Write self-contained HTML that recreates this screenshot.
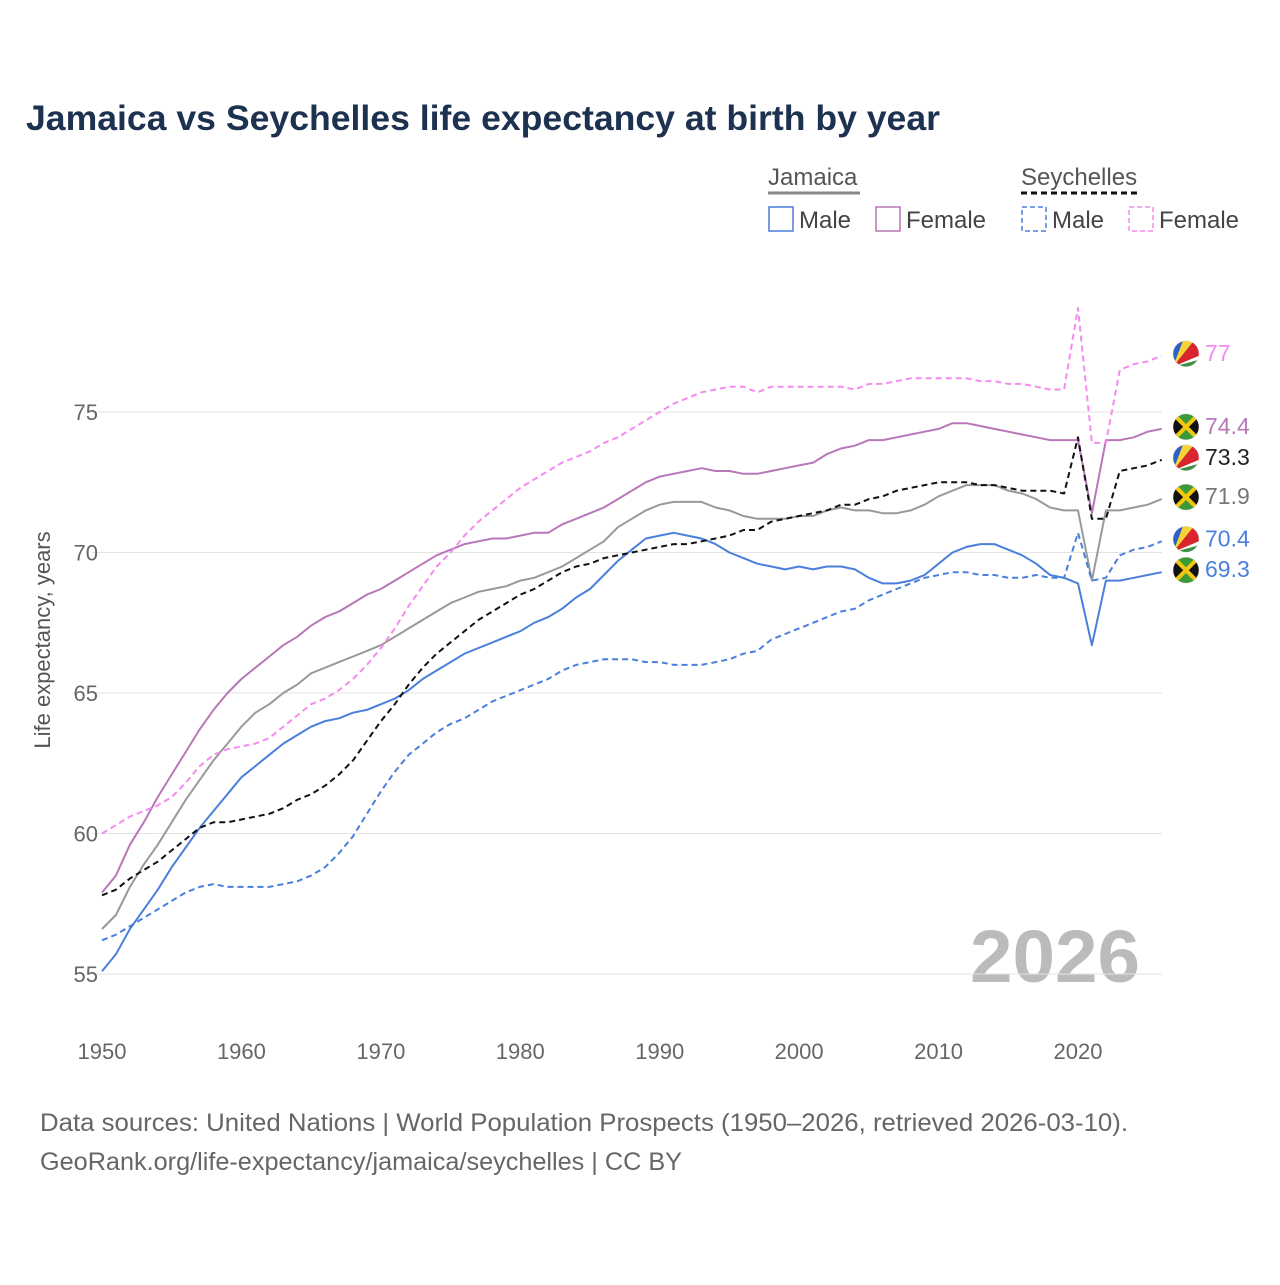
<!DOCTYPE html>
<html><head><meta charset="utf-8">
<style>
body{margin:0;background:#fff;font-family:"Liberation Sans",sans-serif;}
svg text{font-family:"Liberation Sans",sans-serif;}
</style></head>
<body>
<svg id="chart" width="1280" height="1280" viewBox="0 0 1280 1280">
<text x="26" y="130" font-size="35" font-weight="bold" fill="#1d3150" textLength="914" lengthAdjust="spacingAndGlyphs">Jamaica vs Seychelles life expectancy at birth by year</text>
<g>
 <text x="768" y="185" font-size="24" fill="#555">Jamaica</text>
 <line x1="768" y1="193" x2="860" y2="193" stroke="#888" stroke-width="3"/>
 <rect x="769" y="207" width="24" height="24" fill="none" stroke="#4a7fdc" stroke-width="1.5"/>
 <text x="799" y="228" font-size="24" fill="#444">Male</text>
 <rect x="876" y="207" width="24" height="24" fill="none" stroke="#b877b8" stroke-width="1.5"/>
 <text x="906" y="228" font-size="24" fill="#444">Female</text>
 <text x="1021" y="185" font-size="24" fill="#555">Seychelles</text>
 <line x1="1021" y1="193" x2="1140" y2="193" stroke="#111" stroke-width="3" stroke-dasharray="6,4"/>
 <rect x="1022" y="207" width="24" height="24" fill="none" stroke="#4a7fdc" stroke-width="1.5" stroke-dasharray="5,3"/>
 <text x="1052" y="228" font-size="24" fill="#444">Male</text>
 <rect x="1129" y="207" width="24" height="24" fill="none" stroke="#f58af0" stroke-width="1.5" stroke-dasharray="5,3"/>
 <text x="1159" y="228" font-size="24" fill="#444">Female</text>
</g>
<text transform="translate(50,640) rotate(-90)" text-anchor="middle" font-size="22" fill="#555">Life expectancy, years</text>
<text x="970" y="982" font-size="74" font-weight="bold" fill="#bbb" textLength="170" lengthAdjust="spacingAndGlyphs">2026</text>
<g id="grid"></g><g id="series"></g><g id="ends"></g>
<text x="40" y="1131" font-size="25" fill="#666" textLength="1088" lengthAdjust="spacingAndGlyphs">Data sources: United Nations | World Population Prospects (1950–2026, retrieved 2026-03-10).</text>
<text x="40" y="1170" font-size="25" fill="#666" textLength="642" lengthAdjust="spacingAndGlyphs">GeoRank.org/life-expectancy/jamaica/seychelles | CC BY</text>
</svg>
<script>
const startYear = 1950;
const yTicks = [55, 60, 65, 70, 75];
const xTicks = [1950, 1960, 1970, 1980, 1990, 2000, 2010, 2020];
const jamTotal = [56.6,57.1,58.1,58.9,59.6,60.4,61.2,61.9,62.6,63.2,63.8,64.3,64.6,65.0,65.3,65.7,65.9,66.1,66.3,66.5,66.7,67.0,67.3,67.6,67.9,68.2,68.4,68.6,68.7,68.8,69.0,69.1,69.3,69.5,69.8,70.1,70.4,70.9,71.2,71.5,71.7,71.8,71.8,71.8,71.6,71.5,71.3,71.2,71.2,71.2,71.3,71.3,71.5,71.6,71.5,71.5,71.4,71.4,71.5,71.7,72.0,72.2,72.4,72.4,72.4,72.2,72.1,71.9,71.6,71.5,71.5,69.0,71.5,71.5,71.6,71.7,71.9];
const jamMale = [55.1,55.7,56.6,57.3,58.0,58.8,59.5,60.2,60.8,61.4,62.0,62.4,62.8,63.2,63.5,63.8,64.0,64.1,64.3,64.4,64.6,64.8,65.1,65.5,65.8,66.1,66.4,66.6,66.8,67.0,67.2,67.5,67.7,68.0,68.4,68.7,69.2,69.7,70.1,70.5,70.6,70.7,70.6,70.5,70.3,70.0,69.8,69.6,69.5,69.4,69.5,69.4,69.5,69.5,69.4,69.1,68.9,68.9,69.0,69.2,69.6,70.0,70.2,70.3,70.3,70.1,69.9,69.6,69.2,69.1,68.9,66.7,69.0,69.0,69.1,69.2,69.3];
const jamFemale = [57.9,58.5,59.6,60.4,61.3,62.1,62.9,63.7,64.4,65.0,65.5,65.9,66.3,66.7,67.0,67.4,67.7,67.9,68.2,68.5,68.7,69.0,69.3,69.6,69.9,70.1,70.3,70.4,70.5,70.5,70.6,70.7,70.7,71.0,71.2,71.4,71.6,71.9,72.2,72.5,72.7,72.8,72.9,73.0,72.9,72.9,72.8,72.8,72.9,73.0,73.1,73.2,73.5,73.7,73.8,74.0,74.0,74.1,74.2,74.3,74.4,74.6,74.6,74.5,74.4,74.3,74.2,74.1,74.0,74.0,74.0,71.4,74.0,74.0,74.1,74.3,74.4];
const seyTotal = [57.8,58.0,58.4,58.7,59.0,59.4,59.8,60.2,60.4,60.4,60.5,60.6,60.7,60.9,61.2,61.4,61.7,62.1,62.6,63.3,64.0,64.6,65.3,65.9,66.4,66.8,67.2,67.6,67.9,68.2,68.5,68.7,69.0,69.3,69.5,69.6,69.8,69.9,70.0,70.1,70.2,70.3,70.3,70.4,70.5,70.6,70.8,70.8,71.1,71.2,71.3,71.4,71.5,71.7,71.7,71.9,72.0,72.2,72.3,72.4,72.5,72.5,72.5,72.4,72.4,72.3,72.2,72.2,72.2,72.1,74.1,71.2,71.2,72.9,73.0,73.1,73.3];
const seyMale = [56.2,56.4,56.7,57.0,57.3,57.6,57.9,58.1,58.2,58.1,58.1,58.1,58.1,58.2,58.3,58.5,58.8,59.3,59.9,60.7,61.5,62.2,62.8,63.2,63.6,63.9,64.1,64.4,64.7,64.9,65.1,65.3,65.5,65.8,66.0,66.1,66.2,66.2,66.2,66.1,66.1,66.0,66.0,66.0,66.1,66.2,66.4,66.5,66.9,67.1,67.3,67.5,67.7,67.9,68.0,68.3,68.5,68.7,68.9,69.1,69.2,69.3,69.3,69.2,69.2,69.1,69.1,69.2,69.1,69.1,70.7,69.0,69.1,69.9,70.1,70.2,70.4];
const seyFemale = [60.0,60.3,60.6,60.8,61.0,61.3,61.8,62.4,62.8,63.0,63.1,63.2,63.4,63.8,64.2,64.6,64.8,65.1,65.5,66.0,66.6,67.3,68.1,68.8,69.5,70.0,70.6,71.1,71.5,71.9,72.3,72.6,72.9,73.2,73.4,73.6,73.9,74.1,74.4,74.7,75.0,75.3,75.5,75.7,75.8,75.9,75.9,75.7,75.9,75.9,75.9,75.9,75.9,75.9,75.8,76.0,76.0,76.1,76.2,76.2,76.2,76.2,76.2,76.1,76.1,76.0,76.0,75.9,75.8,75.8,78.7,73.9,73.9,76.5,76.7,76.8,77.0];

const NS = "http://www.w3.org/2000/svg";
const x = yr => 102 + (yr - 1950) * (1078 - 102) / 70;
const y = v => 974 - (v - 55) * (974 - 412) / 20;
function mk(tag, attrs, parent){const e=document.createElementNS(NS,tag);for(const k in attrs)e.setAttribute(k,attrs[k]);parent.appendChild(e);return e;}
const grid = document.getElementById('grid');
yTicks.forEach(t=>{
  const l = mk('line',{x1:92,x2:1162,y1:y(t),y2:y(t),stroke:'#e3e3e3','stroke-width':1},grid);
  
  
  const tx = mk('text',{x:98,y:y(t)+8,'text-anchor':'end','font-size':22,fill:'#666'},grid);
  tx.textContent = t;
  
  
});
xTicks.forEach(t=>{
  const tx = mk('text',{x:x(t),y:1059,'text-anchor':'middle','font-size':22,fill:'#666'},grid);
  tx.textContent = t;
  
  
});
const series = [
  {d:jamTotal,c:'#999',dash:'',name:'line-jamaica-total',lab:'#777',flag:'jm'},
  {d:jamMale,c:'#4a7fdc',dash:'',name:'line-jamaica-male',lab:'#4a7fdc',flag:'jm'},
  {d:jamFemale,c:'#b877b8',dash:'',name:'line-jamaica-female',lab:'#b877b8',flag:'jm'},
  {d:seyMale,c:'#4a7fdc',dash:'6,4',name:'line-seychelles-male',lab:'#4a7fdc',flag:'sc'},
  {d:seyFemale,c:'#f58af0',dash:'6,4',name:'line-seychelles-female',lab:'#f58af0',flag:'sc'},
  {d:seyTotal,c:'#111',dash:'6,4',name:'line-seychelles-total',lab:'#222',flag:'sc'}
];
const sg = document.getElementById('series'), eg = document.getElementById('ends');
function flag(cx,cy,type,parent){
  const g = mk('g',{},parent);
  
  
  const id='clip'+Math.round(cx)+Math.round(cy);
  const cp=mk('clipPath',{id:id},g); mk('circle',{cx:cx,cy:cy,r:13},cp);
  const inner=mk('g',{'clip-path':'url(#'+id+')'},g);
  if(type==='jm'){
    mk('rect',{x:cx-13,y:cy-13,width:26,height:26,fill:'#111'},inner);
    mk('polygon',{points:`${cx-13},${cy-13} ${cx+13},${cy-13} ${cx},${cy}`,fill:'#3a9a3a'},inner);
    mk('polygon',{points:`${cx-13},${cy+13} ${cx+13},${cy+13} ${cx},${cy}`,fill:'#3a9a3a'},inner);
    mk('line',{x1:cx-13,y1:cy-13,x2:cx+13,y2:cy+13,stroke:'#f2c80f','stroke-width':4},inner);
    mk('line',{x1:cx+13,y1:cy-13,x2:cx-13,y2:cy+13,stroke:'#f2c80f','stroke-width':4},inner);
  } else {
    mk('rect',{x:cx-13,y:cy-13,width:26,height:26,fill:'#3f8f3f'},inner);
    mk('polygon',{points:`${cx-13},${cy+13} ${cx-13},${cy-13} ${cx-3},${cy-13}`,fill:'#2d5fc4'},inner);
    mk('polygon',{points:`${cx-13},${cy+13} ${cx-3},${cy-13} ${cx+8},${cy-13}`,fill:'#f7d23a'},inner);
    mk('polygon',{points:`${cx-13},${cy+13} ${cx+8},${cy-13} ${cx+13},${cy-13} ${cx+13},${cy+2}`,fill:'#d9252d'},inner);
    mk('polygon',{points:`${cx-13},${cy+13} ${cx+13},${cy+2} ${cx+13},${cy+6}`,fill:'#fff'},inner);
  }
  mk('circle',{cx:cx,cy:cy,r:13,fill:'none',stroke:'#ddd','stroke-width':0.5},g);
}
series.forEach(s=>{
  const pts = s.d.map((v,i)=>x(startYear+i).toFixed(1)+','+y(v).toFixed(1)).join(' ');
  const p = mk('polyline',{points:pts,fill:'none',stroke:s.c,'stroke-width':2,'stroke-dasharray':s.dash,'stroke-linejoin':'round'},sg);
  
  
  const last = s.d[s.d.length-1];
  const ly = y(last);
  flag(1186, ly-2, s.flag, eg);
  const t = mk('text',{x:1205,y:ly+5,'font-size':23,fill:s.lab},eg);
  t.textContent = (Math.round(last*10)/10).toString();
  
  
});
</script>
</body></html>
